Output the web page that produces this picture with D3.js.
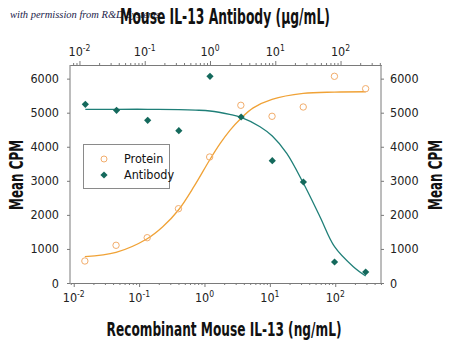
<!DOCTYPE html>
<html><head><meta charset="utf-8">
<script src="https://cdn.jsdelivr.net/npm/d3@7"></script>
<style>body{margin:0;background:#fff}svg{display:block}</style></head>
<body><svg id="c" width="450" height="347"></svg>
<script>
// ---- data ----
const proteinConc = [0.0148, 0.0444, 0.133, 0.4, 1.2, 3.6, 10.8, 32.4, 97.2, 291.6]; // ng/mL (bottom axis)
const proteinCPM  = [646, 1107, 1330, 2181, 3699, 5217, 4894, 5167, 6068, 5704];
const antibodyConc = [0.0123, 0.037, 0.111, 0.333, 1, 3, 9, 27, 81, 243];          // µg/mL (top axis)
const antibodyCPM  = [5246, 5070, 4776, 4471, 6068, 4873, 3590, 2965, 617, 323];
// fitted curves
const proteinFitConc = [0.0148, 0.0444, 0.133, 0.23, 0.4, 0.7, 1.2, 1.73, 2.45, 3.6, 5.57, 10.8, 32.4, 97.2, 291.6];
const proteinFitCPM  = [772, 900, 1300, 1650, 2143, 2850, 3611, 4090, 4480, 4830, 5140, 5390, 5565, 5605, 5615];
const antibodyFitConc = [0.0123, 0.037, 0.111, 0.333, 0.6, 1, 2, 3, 5.84, 9, 15, 27, 48.4, 81, 157, 243];
const antibodyFitCPM  = [5100, 5100, 5100, 5090, 5075, 5050, 4950, 4865, 4589, 4316, 3807, 2927, 1946, 1066, 479, 206];
const yTicks = [0, 1000, 2000, 3000, 4000, 5000, 6000];
const decadeTicks = [0.01, 0.1, 1, 10, 100];
const decadeExp = ["-2", "-1", "0", "1", "2"];
const seriesNames = ["Protein", "Antibody"];
const titleText = "Mouse IL-13 Antibody (\u03bcg/mL)";
const xLabelText = "Recombinant Mouse IL-13 (ng/mL)";
const yLabelText = "Mean CPM";
const creditText = "with permission from R&D Systems";

// ---- layout ----
const L = 70, R = 381, T = 65, B = 283;
const narrow = "'Liberation Sans Narrow','DejaVu Sans Condensed','Arial Narrow',sans-serif";
const axisCol = "#7a7a7a";
const orange = "#f0a236", orangeMk = "#f2ad6c";
const teal = "#1f7f78", tealMk = "#14695c";

const svg = d3.select("#c");
const xB = d3.scaleLog().domain([Math.pow(10, -2.057), Math.pow(10, 2.700)]).range([L, R]);
const xT = d3.scaleLog().domain([Math.pow(10, -2.145), Math.pow(10, 2.620)]).range([L, R]);
const y = d3.scaleLinear().domain([0, 6400]).range([B, T]);

function minorTicks(sc) {
  const [a, b] = sc.domain(); const out = [];
  for (let e = -4; e <= 3; e++) for (let k = 2; k <= 9; k++) {
    const v = k * Math.pow(10, e); if (v >= a && v <= b) out.push(v);
  }
  return out;
}

// credit watermark
svg.append("text").attr("x", 10).attr("y", 18)
  .attr("font-family", "'Liberation Serif','DejaVu Serif',serif").attr("font-style", "italic")
  .attr("font-size", 10.5).attr("fill", "#23234a").text(creditText);

// condensed bold label: natural text squeezed horizontally to a target width
function squeezed(cx, cy, rot, txt, size, width) {
  const g = svg.append("g").attr("transform", `translate(${cx},${cy}) rotate(${rot})`);
  const t = g.append("text").attr("text-anchor", "middle")
    .attr("font-family", narrow).attr("font-weight", "bold").attr("font-size", size)
    .attr("fill", "#111").text(txt);
  const w = t.node().getComputedTextLength();
  t.attr("transform", `scale(${Math.min(1, width / w)},1)`);
  return t;
}
squeezed(225, 24, 0, titleText, 21, 210);
squeezed(224, 336, 0, xLabelText, 20, 235);
squeezed(23, 175, -90, yLabelText, 19, 70);
squeezed(442, 175, -90, yLabelText, 19, 70);

// axes
function styleAxis(g) { g.selectAll("path,line").attr("stroke", axisCol).attr("stroke-width", 1); g.selectAll("text").remove(); }
svg.append("g").attr("transform", `translate(0,${B})`)
  .call(d3.axisBottom(xB).tickValues(minorTicks(xB)).tickSize(2).tickSizeOuter(0)).call(styleAxis);
svg.append("g").attr("transform", `translate(0,${B})`)
  .call(d3.axisBottom(xB).tickValues(decadeTicks).tickSize(4).tickSizeOuter(0)).call(styleAxis);
svg.append("g").attr("transform", `translate(0,${T})`)
  .call(d3.axisTop(xT).tickValues(minorTicks(xT)).tickSize(2).tickSizeOuter(0)).call(styleAxis);
svg.append("g").attr("transform", `translate(0,${T})`)
  .call(d3.axisTop(xT).tickValues(decadeTicks).tickSize(4).tickSizeOuter(0)).call(styleAxis);

const fmt = d3.format("d");
const yl = svg.append("g").attr("transform", `translate(${L},0)`)
  .call(d3.axisLeft(y).tickValues(yTicks).tickFormat(fmt).tickSize(3).tickSizeOuter(0).tickPadding(8));
const yr = svg.append("g").attr("transform", `translate(${R},0)`)
  .call(d3.axisRight(y).tickValues(yTicks).tickFormat(fmt).tickSize(3).tickSizeOuter(0).tickPadding(6));
[yl, yr].forEach(g => {
  g.selectAll("path,line").attr("stroke", axisCol);
  g.selectAll("text").attr("font-family", narrow).attr("font-size", 12.5).attr("fill", "#222");
  g.select("path.domain").attr("d", `M0,${T}V${B}`);
});

// decade labels with superscripts
function decadeLabels(sc, yy) {
  decadeTicks.forEach((v, i) => {
    const t = svg.append("text").attr("x", sc(v)).attr("y", yy).attr("text-anchor", "middle")
      .attr("font-family", narrow).attr("font-size", 12.5).attr("fill", "#222");
    t.append("tspan").text("10");
    t.append("tspan").attr("dy", -5).attr("font-size", 8.5).text(decadeExp[i]);
  });
}
decadeLabels(xB, 302);
decadeLabels(xT, 56);

// fitted curves
const pLine = d3.line().x(d => xB(d[0])).y(d => y(d[1])).curve(d3.curveCatmullRom.alpha(0.5));
const aLine = d3.line().x(d => xT(d[0])).y(d => y(d[1])).curve(d3.curveCatmullRom.alpha(0.5));
svg.append("path").datum(d3.zip(proteinFitConc, proteinFitCPM)).attr("d", pLine)
  .attr("fill", "none").attr("stroke", orange).attr("stroke-width", 1.3);
svg.append("path").datum(d3.zip(antibodyFitConc, antibodyFitCPM)).attr("d", aLine)
  .attr("fill", "none").attr("stroke", teal).attr("stroke-width", 1.3);

// markers
const diamond = d3.symbol(d3.symbolSquare, 26)();
svg.append("g").selectAll("circle").data(d3.zip(proteinConc, proteinCPM)).join("circle")
  .attr("cx", d => xB(d[0])).attr("cy", d => y(d[1])).attr("r", 3.2)
  .attr("fill", "none").attr("stroke", orangeMk).attr("stroke-width", 1);
svg.append("g").selectAll("path").data(d3.zip(antibodyConc, antibodyCPM)).join("path")
  .attr("d", diamond).attr("transform", d => `translate(${xT(d[0])},${y(d[1])}) rotate(45)`)
  .attr("fill", tealMk);

// legend
const lg = svg.append("g");
lg.append("rect").attr("x", 83.5).attr("y", 144.5).attr("width", 86).attr("height", 44)
  .attr("fill", "#fff").attr("stroke", "#8a8a8a");
lg.append("circle").attr("cx", 104).attr("cy", 159).attr("r", 3).attr("fill", "none").attr("stroke", orangeMk);
lg.append("path").attr("d", diamond).attr("transform", "translate(104,175) rotate(45)").attr("fill", tealMk);
seriesNames.forEach((n, i) => {
  lg.append("text").attr("x", 124).attr("y", 163 + i * 16).attr("font-family", narrow)
    .attr("font-size", 12.5).attr("fill", "#111").text(n);
});
</script>
</body></html>
